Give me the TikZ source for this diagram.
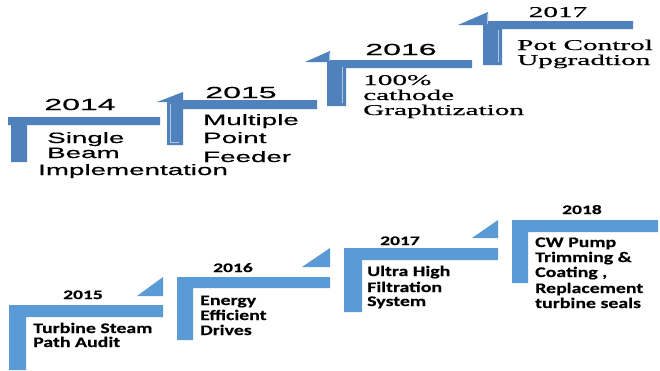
\documentclass[tikz,border=0pt]{standalone}
\usepackage{fontspec}
\newfontfamily\topsans[FakeStretch=1.85,FakeBold=0.6]{Liberation Sans}
\newfontfamily\topyear[FakeStretch=2.0,FakeBold=0.6]{Liberation Sans}
\newfontfamily\topserif[FakeStretch=1.95,FakeBold=0.6]{Liberation Serif}
\newfontfamily\botfont[FakeStretch=1.36,FakeBold=0.4]{Carlito}
\newfontfamily\botyear[FakeStretch=1.5,FakeBold=0.4]{Carlito}
\definecolor{topblue}{HTML}{4F81BD}
\definecolor{botblue}{HTML}{5B9BD5}
\tikzset{
  topshape/.style={fill=topblue, draw=none},
  botshape/.style={fill=botblue, draw=none},
  bevel/.style={draw=topblue!45!white, line width=0.7pt},
  tyear/.style={anchor=base, inner sep=0pt, font=\topyear\fontsize{16}{16}\selectfont},
  tsans/.style={anchor=base west, inner sep=0pt, font=\topsans\fontsize{15}{15}\selectfont},
  tserif/.style={anchor=base west, inner sep=0pt, font=\topserif\fontsize{15}{15}\selectfont},
  tsyear/.style={anchor=base, inner sep=0pt, font=\topserif\fontsize{15}{15}\selectfont},
  byear/.style={anchor=base, inner sep=0pt, font=\botyear\bfseries\fontsize{13}{13}\selectfont},
  btext/.style={anchor=base west, inner sep=0pt, font=\botfont\bfseries\fontsize{14.6}{14.6}\selectfont},
}
\begin{document}
\begin{tikzpicture}[x=1pt,y=-1pt]
\useasboundingbox (0,0) rectangle (660,370);
% ---------- top row ----------
\fill[topshape] (8,117) -- (160,117) -- (160,125) -- (27,125) -- (27,162) -- (11,162) -- (11,125) -- (8,125) -- cycle;
\fill[topshape] (167,100) -- (317,100) -- (317,109) -- (183,109) -- (183,145) -- (167,145) -- cycle;
\fill[topshape] (157,102) -- (183,102) -- (183,92) -- cycle;
\draw[bevel] (170,104) -- (170,142) -- (179,142);
\fill[topshape] (327,60) -- (472,60) -- (472,68) -- (346,68) -- (346,106) -- (327,106) -- cycle;
\fill[topshape] (305,62) -- (330,62) -- (330,51) -- cycle;
\draw[bevel] (329,53) -- (329,61);
\draw[bevel] (342,67) -- (342,103);
\fill[topshape] (483,21) -- (633,21) -- (633,29) -- (502,29) -- (502,65) -- (483,65) -- cycle;
\fill[topshape] (458,25) -- (488,25) -- (488,12) -- cycle;
\draw[bevel] (487,14) -- (487,24);
\draw[bevel] (498,30) -- (498,62);

\node[tyear] (y14) at (80,110) {2014};
\node[tsans] (t14a) at (47,143) {Single};
\node[tsans] (t14b) at (47,158) {Beam};
\node[tsans] (t14c) at (38,175) {Implementation};

\node[tyear] (y15) at (241,98) {2015};
\node[tsans] (t15a) at (203,125) {Multiple};
\node[tsans] (t15b) at (203,143) {Point};
\node[tsans] (t15c) at (203,162) {Feeder};

\node[tyear] (y16) at (401,55) {2016};
\node[tserif] (t16a) at (363,85) {100\%};
\node[tserif] (t16b) at (363,100) {cathode};
\node[tserif] (t16c) at (363,115) {Graphtization};

\node[tsyear] (y17) at (558,17) {2017};
\node[tserif] (t17a) at (517,50) {Pot Control};
\node[tserif] (t17b) at (517,65) {Upgradtion};

% ---------- bottom row ----------
\fill[botshape] (9,305) -- (163,305) -- (163,317) -- (26,317) -- (26,370) -- (9,370) -- cycle;
\fill[botshape] (137,296) -- (163,296) -- (163,277) -- cycle;
\fill[botshape] (177,277) -- (330,277) -- (330,288) -- (193,288) -- (193,340) -- (177,340) -- cycle;
\fill[botshape] (302,267) -- (330,267) -- (330,248) -- cycle;
\fill[botshape] (344,248) -- (498,248) -- (498,260) -- (362,260) -- (362,312) -- (344,312) -- cycle;
\fill[botshape] (472,238) -- (498,238) -- (498,220) -- cycle;
\fill[botshape] (512,220) -- (658,220) -- (658,232) -- (528,232) -- (528,283) -- (512,283) -- cycle;

\node[byear] (b15) at (83,299) {2015};
\node[btext] (b15a) at (33,333) {Turbine Steam};
\node[btext] (b15b) at (33,347) {Path Audit};

\node[byear] (b16) at (233,272) {2016};
\node[btext] (b16a) at (200,305) {Energy};
\node[btext] (b16b) at (200,320) {Efficient};
\node[btext] (b16c) at (200,335) {Drives};

\node[byear] (b17) at (400,245) {2017};
\node[btext] (b17a) at (367,276) {Ultra High};
\node[btext] (b17b) at (367,292) {Filtration};
\node[btext] (b17c) at (367,306) {System};

\node[byear] (b18) at (582,214) {2018};
\node[btext] (b18a) at (535,247) {CW Pump};
\node[btext] (b18b) at (535,262) {Trimming \&};
\node[btext] (b18c) at (535,277) {Coating ,};
\node[btext] (b18d) at (535,293) {Replacement};
\node[btext] (b18e) at (535,308) {turbine seals};
\end{tikzpicture}
\end{document}
